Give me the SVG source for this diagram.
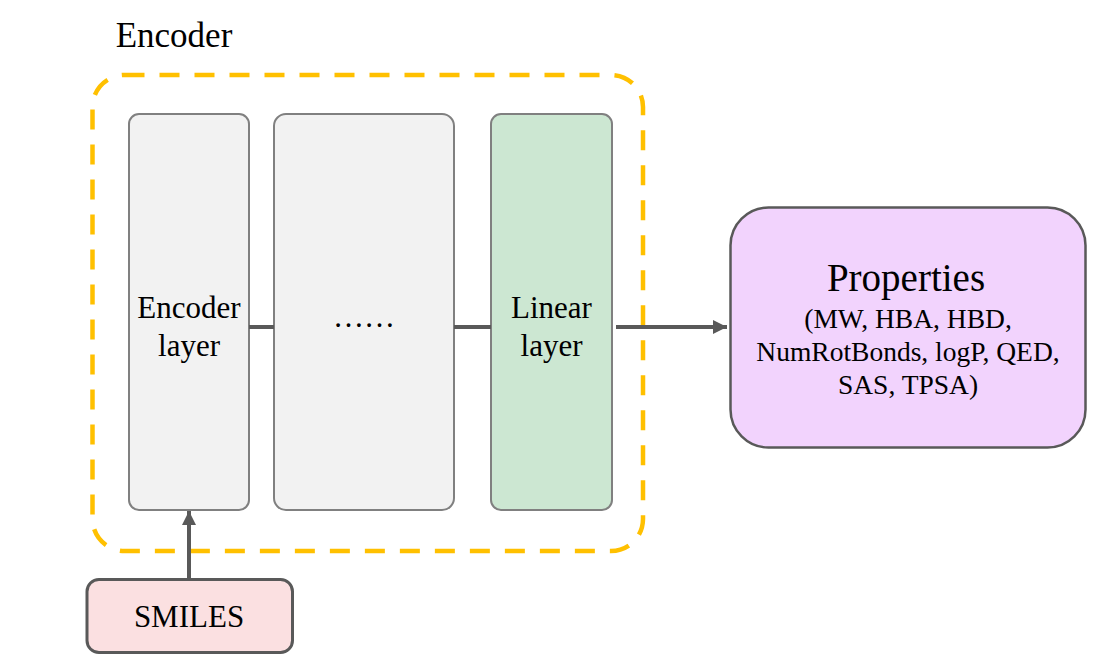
<svg xmlns="http://www.w3.org/2000/svg" width="1115" height="671" viewBox="0 0 1115 671">
<style>
text{font-family:"Liberation Serif","Times New Roman",serif;fill:#000;text-anchor:middle}
.layer{stroke:#808080;stroke-width:2}
.conn{stroke:#595959;stroke-width:4;fill:none}
</style>
<defs>
<marker id="ah" markerWidth="14" markerHeight="14" refX="14" refY="7" orient="auto" markerUnits="userSpaceOnUse">
<path d="M0,0 L14,7 L0,14 Z" fill="#595959"/>
</marker>
</defs>
<rect width="1115" height="671" fill="#fff"/>
<g id="encoder-group">
<rect x="92.5" y="75" width="550.5" height="476" rx="32" fill="none" stroke="#ffc000" stroke-width="4.5" stroke-dasharray="20 15"/>
<text x="174" y="47" font-size="35">Encoder</text>
</g>
<g id="encoder-layer">
<rect class="layer" x="129" y="114" width="120" height="396" rx="10" fill="#f2f2f2"/>
<text x="189" y="318" font-size="31">Encoder</text>
<text x="189" y="356" font-size="31">layer</text>
</g>
<g id="ellipsis-layer">
<rect class="layer" x="274" y="114" width="180" height="396" rx="12" fill="#f2f2f2"/>
<text x="364" y="327" font-size="31">……</text>
</g>
<g id="linear-layer">
<rect class="layer" x="491" y="114" width="121" height="396" rx="10" fill="#cce7d2"/>
<text x="551.5" y="318" font-size="31">Linear</text>
<text x="551.5" y="356" font-size="31">layer</text>
</g>
<g id="properties">
<rect x="730.5" y="207.5" width="355" height="240" rx="38" fill="#f2d3fd" stroke="#595959" stroke-width="2.5"/>
<text x="906" y="291" font-size="39">Properties</text>
<text x="908" y="328" font-size="27.5">(MW, HBA, HBD,</text>
<text x="908" y="361" font-size="27.5">NumRotBonds, logP, QED,</text>
<text x="908" y="394" font-size="27.5">SAS, TPSA)</text>
</g>
<g id="smiles">
<rect x="87" y="579.5" width="205.5" height="73" rx="12" fill="#fbe0e1" stroke="#595959" stroke-width="3"/>
<text x="189" y="627" font-size="31">SMILES</text>
</g>
<g id="connectors">
<line class="conn" x1="249" y1="327" x2="274" y2="327"/>
<line class="conn" x1="454" y1="327" x2="491" y2="327"/>
<line class="conn" x1="616" y1="327" x2="727" y2="327" marker-end="url(#ah)"/>
<line class="conn" x1="189" y1="579" x2="189" y2="511" marker-end="url(#ah)"/>
</g>
</svg>
